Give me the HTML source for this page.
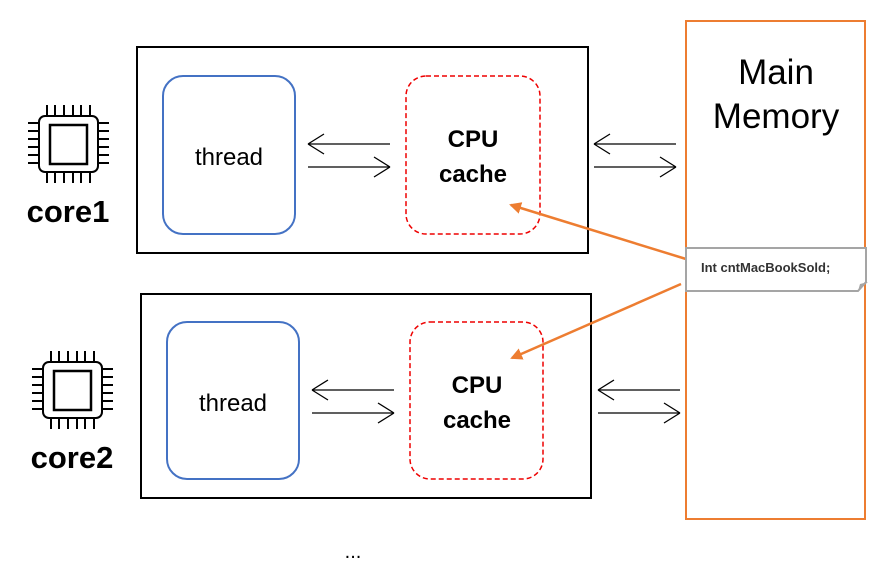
<!DOCTYPE html>
<html><head><style>body{margin:0;background:#fff}svg{display:block}text{font-family:"Liberation Sans",sans-serif}</style></head><body>
<svg width="884" height="584" viewBox="0 0 884 584" xmlns="http://www.w3.org/2000/svg">
<defs>
<marker id="oa" markerWidth="12" markerHeight="12" refX="10" refY="6" orient="auto" markerUnits="userSpaceOnUse"><path d="M0,0 L12,6 L0,12 z" fill="#ed7d31"/></marker>
<g id="chip" fill="none" stroke="#000" stroke-width="2">
<rect x="39" y="116" width="59" height="56" rx="6" fill="#fff"/>
<rect x="50" y="125" width="37" height="39" stroke-width="2.5"/>
<path d="M47,105v11M55,105v11M64,105v11M73,105v11M81,105v11M90,105v11M47,172v11M55,172v11M64,172v11M73,172v11M81,172v11M90,172v11M28,123h11M28,131h11M28,139h11M28,147h11M28,155h11M28,163h11M98,123h11M98,131h11M98,139h11M98,147h11M98,155h11M98,163h11"/>
</g>
<g id="arr" fill="none" stroke="#000" stroke-width="1.3">
<path d="M0,0h82M0,0l16,-10M0,0l16,10"/>
<path d="M0,23h82M82,23l-16,-10M82,23l-16,10"/>
</g>
</defs>
<rect x="686" y="21" width="179" height="498" fill="#fff" stroke="#ed7d31" stroke-width="2"/>
<text x="776" y="84" font-size="35" text-anchor="middle">Main</text>
<text x="776" y="128" font-size="35" text-anchor="middle">Memory</text>

<use href="#chip"/>
<text x="68" y="222" font-size="31" font-weight="bold" text-anchor="middle">core1</text>
<use href="#chip" transform="translate(4,246)"/>
<text x="72" y="468" font-size="31" font-weight="bold" text-anchor="middle">core2</text>

<rect x="137" y="47" width="451" height="206" fill="none" stroke="#000" stroke-width="2"/>
<rect x="163" y="76" width="132" height="158" rx="20" fill="none" stroke="#4472c4" stroke-width="2"/>
<text x="229" y="165" font-size="24" text-anchor="middle">thread</text>
<rect x="406" y="76" width="134" height="158" rx="20" fill="none" stroke="#e00" stroke-width="1.5" stroke-dasharray="5,3"/>
<text x="473" y="147" font-size="24" font-weight="bold" text-anchor="middle">CPU</text>
<text x="473" y="182" font-size="24" font-weight="bold" text-anchor="middle">cache</text>
<use href="#arr" transform="translate(308,144)"/>
<use href="#arr" transform="translate(594,144)"/>

<rect x="141" y="294" width="450" height="204" fill="none" stroke="#000" stroke-width="2"/>
<rect x="167" y="322" width="132" height="157" rx="20" fill="none" stroke="#4472c4" stroke-width="2"/>
<text x="233" y="411" font-size="24" text-anchor="middle">thread</text>
<rect x="410" y="322" width="133" height="157" rx="20" fill="none" stroke="#e00" stroke-width="1.5" stroke-dasharray="5,3"/>
<text x="477" y="393" font-size="24" font-weight="bold" text-anchor="middle">CPU</text>
<text x="477" y="428" font-size="24" font-weight="bold" text-anchor="middle">cache</text>
<use href="#arr" transform="translate(312,390)"/>
<use href="#arr" transform="translate(598,390)"/>

<line x1="686" y1="259" x2="511" y2="205" stroke="#ed7d31" stroke-width="2.5" marker-end="url(#oa)"/>
<line x1="681" y1="284" x2="512" y2="358" stroke="#ed7d31" stroke-width="2.5" marker-end="url(#oa)"/>
<path d="M686,248H866V282L858,291H686Z" fill="#fff" stroke="#a5a5a5" stroke-width="2"/>
<path d="M858,291L860,284L868,282Z" fill="#a5a5a5"/>
<text x="701" y="272" font-size="13" font-weight="bold" fill="#333">Int cntMacBookSold;</text>
<text x="353" y="558" font-size="20" text-anchor="middle">...</text>
</svg>
</body></html>
